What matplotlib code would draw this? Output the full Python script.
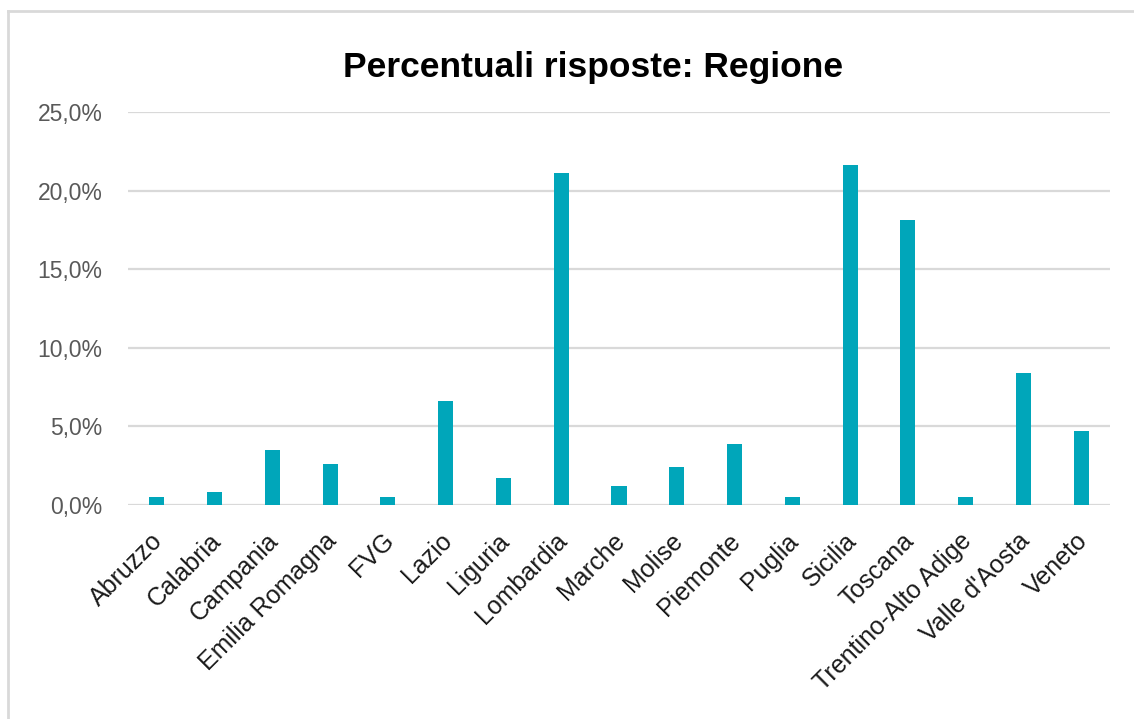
import numpy as np
import matplotlib.pyplot as plt
from matplotlib.lines import Line2D
from matplotlib.ticker import FuncFormatter
from matplotlib.transforms import ScaledTranslation

plt.rcParams['font.family'] = ['Liberation Sans', 'DejaVu Sans']

regioni = ['Abruzzo', 'Calabria', 'Campania', 'Emilia Romagna', 'FVG', 'Lazio',
           'Liguria', 'Lombardia', 'Marche', 'Molise', 'Piemonte', 'Puglia',
           'Sicilia', 'Toscana', 'Trentino-Alto Adige', "Valle d'Aosta", 'Veneto']
percentuali = [0.5, 0.8, 3.5, 2.6, 0.5, 6.6, 1.7, 21.1, 1.2, 2.4, 3.9, 0.5,
               21.6, 18.1, 0.5, 8.4, 4.7]
yticks = [0, 5, 10, 15, 20, 25]

W, H = 1134, 719
fig = plt.figure(figsize=(W / 100, H / 100), dpi=100)
ax = fig.add_axes([128 / W, 1 - 505 / H, (1110 - 128) / W, (505 - 112) / H])

x = np.arange(len(regioni))
ax.bar(x, percentuali, width=0.26, color='#00A6BA', zorder=3)

ax.set_xlim(-0.5, len(regioni) - 0.5)
ax.set_ylim(0, 25)
ax.set_yticks(yticks)
ax.yaxis.set_major_formatter(FuncFormatter(lambda v, p: f'{v:.1f}%'.replace('.', ',')))
ax.grid(axis='y', color='#D9D9D9', linewidth=1.6, zorder=0)
for s in ax.spines.values():
    s.set_visible(False)
ax.tick_params(axis='y', length=0, pad=18.5, labelsize=16.5, labelcolor='#595959')
ax.tick_params(axis='x', length=0, pad=17)
ax.set_xticks(x)
ax.set_xticklabels(regioni, rotation=45, ha='right', va='top', rotation_mode='anchor',
                   fontsize=18, color='#1a1a1a')
shift = ScaledTranslation(-6 / 100, 0, fig.dpi_scale_trans)
for lbl in ax.get_xticklabels():
    lbl.set_transform(lbl.get_transform() + shift)

fig.text(593 / W, 1 - 68 / H, 'Percentuali risposte: Regione', ha='center', va='center',
         fontsize=25.5, fontweight='bold', color='black')

# chart border (Excel frame)
fig.add_artist(Line2D([8 / W, 8 / W], [0, 1 - 11 / H], transform=fig.transFigure,
                      color='#D9D9D9', linewidth=2))
fig.add_artist(Line2D([8 / W, 1], [1 - 11 / H, 1 - 11 / H], transform=fig.transFigure,
                      color='#D9D9D9', linewidth=2))

fig.savefig('out.png', dpi=100)
